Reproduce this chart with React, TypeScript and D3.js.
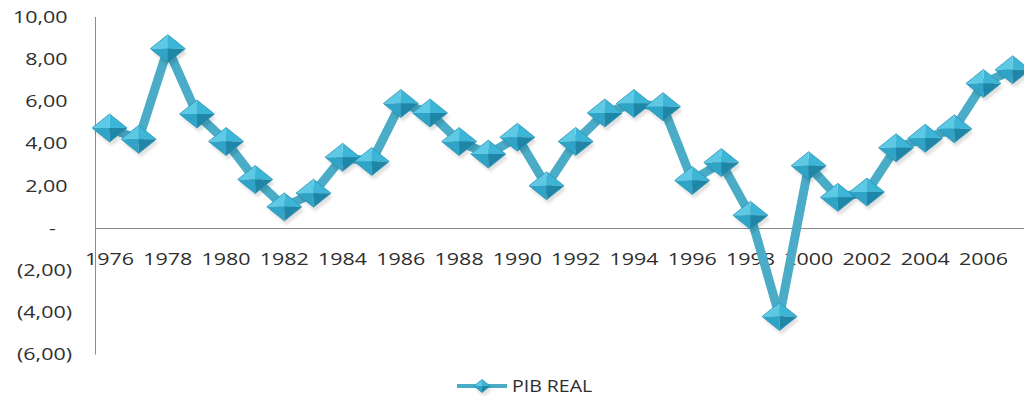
import React from "react";
import * as d3 from "d3";

// Real GDP growth (%), yearly
const years: number[] = [
  1976, 1977, 1978, 1979, 1980, 1981, 1982, 1983, 1984, 1985, 1986, 1987, 1988, 1989, 1990, 1991,
  1992, 1993, 1994, 1995, 1996, 1997, 1998, 1999, 2000, 2001, 2002, 2003, 2004, 2005, 2006, 2007,
];
const pibReal: number[] = [
  4.74, 4.2, 8.5, 5.4, 4.1, 2.3, 1.0, 1.65, 3.35, 3.15, 5.9, 5.45, 4.1, 3.5, 4.3, 2.0,
  4.1, 5.45, 5.9, 5.75, 2.25, 3.1, 0.6, -4.2, 2.95, 1.45, 1.7, 3.8, 4.25, 4.7, 6.85, 7.5,
];
const yTicks: number[] = [10, 8, 6, 4, 2, 0, -2, -4, -6];
const seriesName = "PIB REAL";

const W = 1024;
const H = 396;
const FONT = "'Open Sans', 'Liberation Sans', sans-serif";
const STRETCH = 1.3;

function fmt(v: number): string {
  if (v === 0) return "-";
  const s = Math.abs(v).toFixed(2).replace(".", ",");
  return v < 0 ? `(${s})` : s;
}

// Bevelled diamond marker: four shaded facets plus a soft drop shadow
function Diamond({ x, y, w, h }: { x: number; y: number; w: number; h: number }) {
  const hw = w / 2;
  const hh = h / 2;
  const T = `${x},${y - hh}`;
  const R = `${x + hw},${y}`;
  const B = `${x},${y + hh}`;
  const L = `${x - hw},${y}`;
  const c = `${x},${y}`;
  return (
    <g>
      <polygon
        points={`${x + 2},${y - hh + 4} ${x + hw + 2},${y + 4} ${x + 2},${y + hh + 4} ${x - hw + 2},${y + 4}`}
        fill="#000"
        opacity={0.12}
        filter="url(#soft)"
      />
      <polygon points={`${T} ${R} ${c}`} fill="#3cb5d6" />
      <polygon points={`${T} ${L} ${c}`} fill="#5ec9e4" />
      <polygon points={`${L} ${B} ${c}`} fill="#2fa4c6" />
      <polygon points={`${R} ${B} ${c}`} fill="#1f86a8" />
      <polygon points={`${T} ${R} ${B} ${L}`} fill="none" stroke="#2a95b6" strokeWidth={0.8} />
    </g>
  );
}

export default function App() {
  const x = d3
    .scaleBand<number>()
    .domain(years)
    .range([95, 95 + 29.13 * years.length]);
  const y = d3.scaleLinear().domain([-6, 10]).range([354.5, 17]);
  const cx = (yr: number) => (x(yr) as number) + x.bandwidth() / 2;

  const line = d3
    .line<number>()
    .x((_, i) => cx(years[i]))
    .y((d) => y(d));

  const labelYears = years.filter((yr) => (yr - 1976) % 2 === 0 && yr <= 2006);

  return (
    <svg width={W} height={H} style={{ position: "absolute", left: 0, top: 0, background: "#fff" }}>
      <defs>
        <filter id="soft" x="-50%" y="-50%" width="200%" height="200%">
          <feGaussianBlur stdDeviation={1.5} />
        </filter>
      </defs>
      {/* axes */}
      <line x1={95.5} x2={95.5} y1={y(10)} y2={y(-6)} stroke="#8c8c8c" strokeWidth={1} />
      <line
        x1={95}
        x2={W}
        y1={Math.round(y(0)) + 0.5}
        y2={Math.round(y(0)) + 0.5}
        stroke="#8c8c8c"
        strokeWidth={1}
      />

      {/* value axis labels */}
      {yTicks.map((t) => {
        const anchorX = t === 0 ? 56 : t < 0 ? 72 : 67.5;
        return (
          <g key={t} transform={`translate(${anchorX},${y(t) + 5.8}) scale(${STRETCH},1)`}>
            <text textAnchor="end" fontFamily={FONT} fontSize={16.5} fill="#2e2e2e">
              {fmt(t)}
            </text>
          </g>
        );
      })}

      {/* category labels */}
      {labelYears.map((yr) => (
        <g key={yr} transform={`translate(${cx(yr)},${265}) scale(${STRETCH},1)`}>
          <text textAnchor="middle" fontFamily={FONT} fontSize={16.5} fill="#2e2e2e">
            {yr}
          </text>
        </g>
      ))}

      {/* series */}
      <path
        d={line(pibReal) ?? ""}
        fill="none"
        stroke="#4aacc6"
        strokeWidth={9}
        strokeLinejoin="miter"
        strokeMiterlimit={3}
      />
      {pibReal.map((v, i) => (
        <Diamond key={years[i]} x={cx(years[i])} y={y(v)} w={35} h={28} />
      ))}

      {/* legend */}
      <line x1={457} x2={507} y1={386} y2={386} stroke="#4aacc6" strokeWidth={4} />
      <Diamond x={482} y={386} w={16} h={13} />
      <g transform={`translate(512,${391.5}) scale(1.22,1)`}>
        <text fontFamily={FONT} fontSize={16} fill="#2e2e2e">
          {seriesName}
        </text>
      </g>
    </svg>
  );
}
